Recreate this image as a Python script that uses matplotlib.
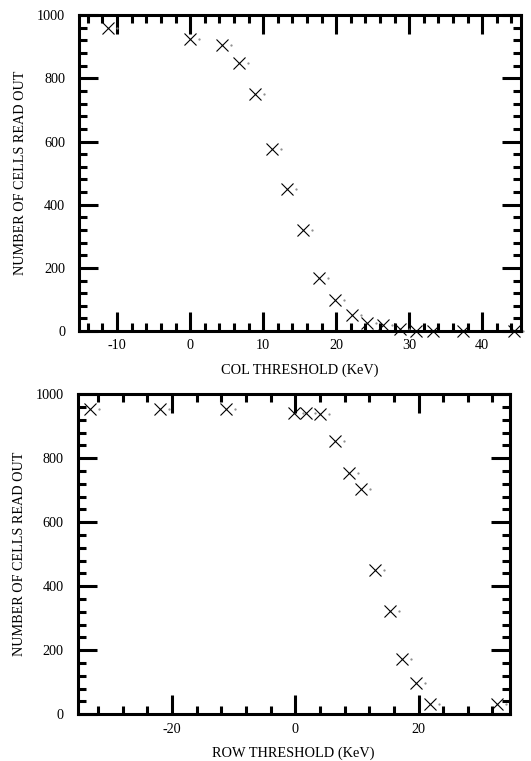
import numpy as np
import matplotlib
matplotlib.use("Agg")
import matplotlib.pyplot as plt
import matplotlib.transforms as mtransforms
from matplotlib.ticker import MultipleLocator

plt.rcParams['font.family'] = ['Liberation Serif', 'DejaVu Serif']
plt.rcParams['axes.unicode_minus'] = False

# data
col_thr = [-11.2, 0.0, 4.4, 6.7, 8.9, 11.2, 13.2, 15.5, 17.7, 19.9, 22.2, 24.2,
           26.4, 28.7, 31.0, 33.2, 37.4, 44.3]
col_cells = [960, 926, 907, 849, 751, 576, 449, 319, 168, 99, 50, 24,
             19, 5, 0, 0, 0, 0]

row_thr = [-33.2, -21.9, -11.2, -0.2, 1.8, 4.1, 6.5, 8.8, 10.7, 13.0, 15.3,
           17.3, 19.6, 21.8, 32.7]
row_cells = [954, 954, 954, 941, 941, 937, 855, 755, 704, 450, 324,
             174, 99, 31, 31]

fig = plt.figure(figsize=(5.31, 7.61), dpi=100)
ax1 = fig.add_axes([0.149, 0.565, 0.832, 0.415])
ax2 = fig.add_axes([0.146, 0.0614, 0.814, 0.4206])


def style(ax, xmaj, xmin):
    ax.xaxis.set_major_locator(MultipleLocator(xmaj))
    ax.xaxis.set_minor_locator(MultipleLocator(xmin))
    ax.yaxis.set_major_locator(MultipleLocator(200))
    ax.yaxis.set_minor_locator(MultipleLocator(40))
    ax.tick_params(which='both', direction='in', top=True, right=True,
                   labelsize=10.2)
    ax.tick_params(axis='x', pad=6)
    ax.tick_params(axis='y', pad=10)
    ax.tick_params(which='major', length=14, width=2.2)
    ax.tick_params(which='minor', length=5.5, width=2.2)
    for sp in ax.spines.values():
        sp.set_linewidth(2.2)
    ax.set_ylim(0, 1000)
    ax.set_ylabel("NUMBER OF CELLS READ OUT", fontsize=10.2, labelpad=7)


def draw(ax, x, y):
    ax.plot(x, y, linestyle='none', marker='x', markersize=9,
            markeredgewidth=0.8, color='black', clip_on=False)
    off = mtransforms.offset_copy(ax.transData, fig=fig, x=9, y=0, units='dots')
    ax.plot(x, y, linestyle='none', marker='.', markersize=1.2,
            color='#888888', transform=off, clip_on=False)


draw(ax1, col_thr, col_cells)
style(ax1, 10, 2)
ax1.set_xlim(-15.2, 45.3)
ax1.set_xlabel("COL THRESHOLD (KeV)", fontsize=10.4, labelpad=8)

draw(ax2, row_thr, row_cells)
style(ax2, 20, 4)
ax2.set_xlim(-35.3, 34.8)
ax2.set_xlabel("ROW THRESHOLD (KeV)", fontsize=10.4, labelpad=8)

fig.savefig("out.png", dpi=100)
